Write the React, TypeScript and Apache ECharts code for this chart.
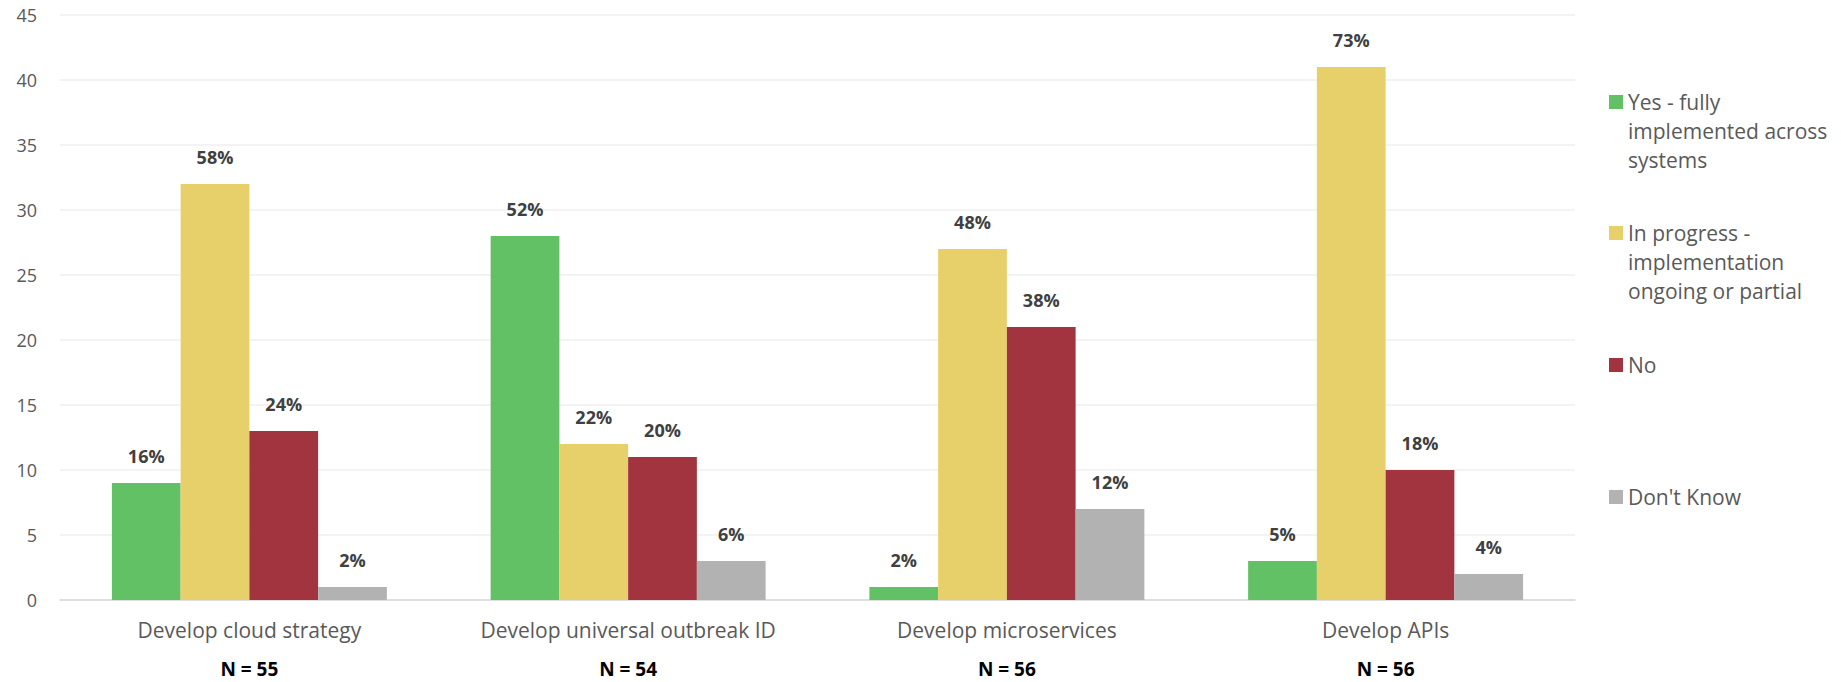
import React, { useEffect, useRef } from "react";
import * as echarts from "echarts";

// Survey items (categories) and respondent counts per item
const categories = [
  "Develop cloud strategy",
  "Develop universal outbreak ID",
  "Develop microservices",
  "Develop APIs",
];
const respondents = [55, 54, 56, 56];

// Response counts per answer, one value per category
const seriesNames = [
  "Yes - fully\nimplemented across\nsystems",
  "In progress -\nimplementation\nongoing or partial",
  "No",
  "Don't Know",
];
const yesFully = [9, 28, 1, 3];
const inProgress = [32, 12, 27, 41];
const no = [13, 11, 21, 10];
const dontKnow = [1, 3, 7, 2];

// Share of respondents per answer (percent), as reported
const yesFullyPct = [16, 52, 2, 5];
const inProgressPct = [58, 22, 48, 73];
const noPct = [24, 20, 38, 18];
const dontKnowPct = [2, 6, 12, 4];

const seriesColors = ["#62C165", "#E7D06A", "#A1343F", "#B2B2B2"];
const yTicks = { min: 0, max: 45, interval: 5 };

const FONT = "'Open Sans', Lato, sans-serif";

export default function App() {
  const ref = useRef<HTMLDivElement>(null);

  useEffect(() => {
    document.body.style.margin = "0";
    if (!ref.current) return;
    const chart = echarts.init(ref.current, undefined, { renderer: "svg" });

    const values = [yesFully, inProgress, no, dontKnow];
    const pcts = [yesFullyPct, inProgressPct, noPct, dontKnowPct];

    const series = values.map((data, si) => ({
      name: seriesNames[si],
      type: "bar" as const,
      data,
      barGap: "0%",
      barCategoryGap: "27.4%",
      itemStyle: { color: seriesColors[si] },
      label: {
        show: true,
        position: "top" as const,
        distance: 18,
        fontFamily: FONT,
        fontSize: 18,
        fontWeight: "bold" as const,
        color: "#404040",
        formatter: (p: any) => pcts[si][p.dataIndex] + "%",
      },
    }));

    // Legend: swatch aligned with the first line of each (wrapped) name
    const legendTops = [102, 233, 365, 497];
    const legendItems = seriesNames.map((name, i) => ({
      type: "group" as const,
      children: [
        {
          type: "rect" as const,
          shape: { x: 1609, y: legendTops[i] - 7, width: 14, height: 14 },
          style: { fill: seriesColors[i] },
        },
        {
          type: "text" as const,
          x: 1628,
          y: legendTops[i] - 14.5,
          style: {
            text: name,
            fontFamily: FONT,
            fontSize: 21,
            lineHeight: 29,
            fill: "#595959",
            verticalAlign: "top" as const,
            align: "left" as const,
          },
        },
      ],
    }));

    chart.setOption({
      animation: false,
      grid: { left: 60, right: 266, top: 15, bottom: 82, containLabel: false },
      xAxis: {
        type: "category",
        data: categories,
        axisTick: { show: false },
        axisLine: { lineStyle: { color: "#D9D9D9", width: 1.5 } },
        axisLabel: {
          margin: 2,
          interval: 0,
          formatter: (v: string, idx: number) =>
            `{a|${v}}\n{b|N = ${respondents[idx]}}`,
          rich: {
            a: {
              fontFamily: FONT,
              fontSize: 21,
              color: "#595959",
              lineHeight: 56,
            },
            b: {
              fontFamily: FONT,
              fontSize: 19,
              fontWeight: "bold",
              color: "#000000",
              lineHeight: 22,
            },
          },
        },
      },
      yAxis: {
        type: "value",
        min: yTicks.min,
        max: yTicks.max,
        interval: yTicks.interval,
        axisLine: { show: false },
        axisTick: { show: false },
        splitLine: { lineStyle: { color: "#EFEFEF", width: 1.5 } },
        axisLabel: {
          margin: 23,
          fontFamily: FONT,
          fontSize: 18,
          color: "#595959",
        },
      },
      series,
      graphic: legendItems,
    });

    return () => chart.dispose();
  }, []);

  return <div ref={ref} style={{ width: 1841, height: 682 }} />;
}
